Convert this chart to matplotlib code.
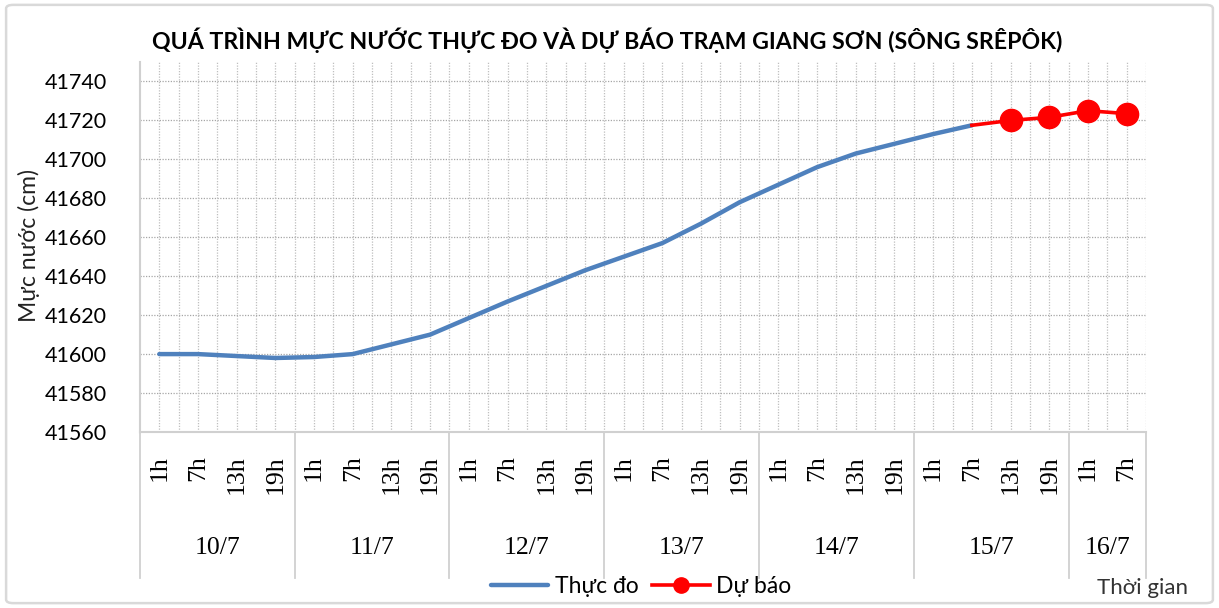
import matplotlib
matplotlib.use('Agg')
import matplotlib.pyplot as plt
from matplotlib.patches import FancyBboxPatch
import numpy as np

plt.rcParams['font.family'] = ['Lato', 'Open Sans', 'DejaVu Sans']

days = ["10/7", "11/7", "12/7", "13/7", "14/7", "15/7", "16/7"]
hours_per_day = [4, 4, 4, 4, 4, 4, 2]
hours = ["1h", "7h", "13h", "19h"]

observed = [41600, 41600, 41599, 41598, 41598.5, 41600, 41605, 41610,
            41618.5, 41627, 41635, 41643, 41650, 41657, 41667, 41678,
            41687, 41696, 41703, 41708, 41713, 41717.5]
forecast = [41717.5, 41720, 41721.6, 41725, 41723.5]

labels = []
for d, n in zip(days, hours_per_day):
    labels += hours[:n]
n_cat = len(labels)
x_obs = np.arange(len(observed))
x_fc = np.arange(len(observed) - 1, len(observed) - 1 + len(forecast))

fig = plt.figure(figsize=(12.19, 6.08), dpi=100)
fig.patches.append(FancyBboxPatch((0.005, 0.008), 0.99, 0.984, boxstyle='round,pad=0,rounding_size=0.006',
                                  transform=fig.transFigure, fill=False, edgecolor='#d9d9d9', linewidth=1.8))
ax = fig.add_axes([0.1148, 0.2895, 0.8253, 0.6085])

ax.plot(x_obs, observed, color='#4f81bd', linewidth=3.2, solid_capstyle='round', label='Thực đo', zorder=3)
ax.plot(x_fc, forecast, color='#ff0000', linewidth=2.6, zorder=4)
ax.plot(x_fc[1:], forecast[1:], color='#ff0000', linestyle='none', marker='o', markersize=16, zorder=5)
ax.plot([], [], color='#ff0000', linewidth=2.6, marker='o', markersize=11, label='Dự báo')

ax.set_xlim(-0.5, n_cat - 0.5)
ax.set_ylim(41560, 41750)
ax.set_yticks(np.arange(41560, 41741, 20))
ax.tick_params(axis='y', length=0, pad=24, labelsize=15.5)
ax.set_xticks([])

# grid
for yv in np.arange(41580, 41741, 20):
    ax.axhline(yv, color='#a6a6a6', linewidth=0.9, linestyle=(0, (1, 1.2)), zorder=1)
for xv in np.arange(0, n_cat - 0.49, 0.5):
    ax.axvline(xv, color='#bfbfbf', linewidth=0.9, linestyle=(0, (1, 1.2)), zorder=1)

for s in ['top', 'right']:
    ax.spines[s].set_visible(False)
for s in ['left', 'bottom']:
    ax.spines[s].set_color('#d0d0d0')
    ax.spines[s].set_linewidth(1.5)

# multi-level category labels
tr = ax.get_xaxis_transform()
for i, lab in enumerate(labels):
    ax.text(i, -0.062, lab, transform=tr, rotation=90, ha='center', va='top',
            fontsize=18.5, family='Liberation Serif')
start = -0.5
bounds = [start]
for d, n in zip(days, hours_per_day):
    ax.text(start + n / 2, -0.3135, d, transform=tr, ha='center', va='center',
            fontsize=18.5, family='Liberation Serif')
    start += n
    bounds.append(start)
for b in bounds:
    ax.plot([b, b], [0, -0.395], transform=tr, color='#d0d0d0', linewidth=1.3, clip_on=False)

fig.text(0.498, 0.934, 'QUÁ TRÌNH MỰC NƯỚC THỰC ĐO VÀ DỰ BÁO TRẠM GIANG SƠN (SÔNG SRÊPÔK)',
         ha='center', va='center', fontsize=16.7, fontweight='bold')
fig.text(0.024, 0.597, 'Mực nước (cm)', rotation=90, ha='center', va='center', fontsize=16.5, color='#222222')
fig.text(0.937, 0.033, 'Thời gian', ha='center', va='center', fontsize=16, color='#333333')

ax.legend(loc='center', bbox_to_anchor=(0.526, 0.036), bbox_transform=fig.transFigure, ncol=2,
          frameon=False, fontsize=16.5, handlelength=2.5, columnspacing=0.6, handletextpad=0.3)

fig.savefig('out.png', dpi=100)
